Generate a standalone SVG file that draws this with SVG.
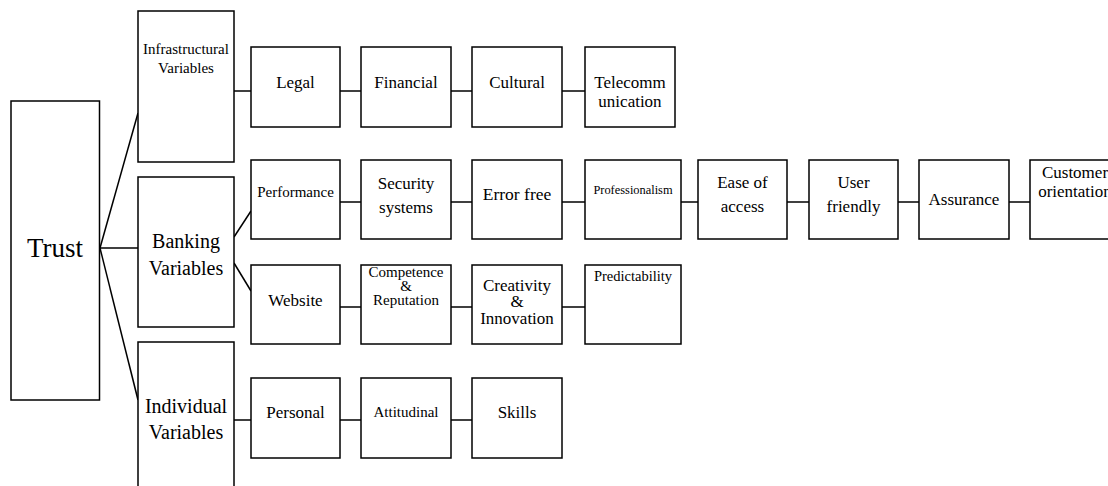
<svg xmlns="http://www.w3.org/2000/svg" width="1108" height="486" viewBox="0 0 1108 486">
<style>
rect{fill:#fff;stroke:#000;stroke-width:1.5}
#connectors line{stroke:#000;stroke-width:1.5}
text{font-family:"Liberation Serif","Times New Roman",serif;fill:#000;text-anchor:middle}
.t17{font-size:17px}
.t15{font-size:15px}
.t20{font-size:20px}
</style>
<rect x="0" y="0" width="1108" height="486" style="stroke:none"/>
<g id="connectors">
<line x1="100" y1="248" x2="138" y2="113"/>
<line x1="100" y1="248" x2="138" y2="248"/>
<line x1="100" y1="248" x2="138" y2="400"/>
<line x1="234" y1="91" x2="251" y2="91"/>
<line x1="340" y1="91" x2="361" y2="91"/>
<line x1="451" y1="91" x2="472" y2="91"/>
<line x1="562" y1="91" x2="585" y2="91"/>
<line x1="234" y1="237" x2="251" y2="211"/>
<line x1="234" y1="263" x2="251" y2="291"/>
<line x1="340" y1="202" x2="361" y2="202"/>
<line x1="451" y1="202" x2="472" y2="202"/>
<line x1="562" y1="202" x2="585" y2="202"/>
<line x1="681" y1="202" x2="698" y2="202"/>
<line x1="787" y1="202" x2="809" y2="202"/>
<line x1="898" y1="202" x2="919" y2="202"/>
<line x1="1009" y1="202" x2="1030" y2="202"/>
<line x1="340" y1="307" x2="361" y2="307"/>
<line x1="451" y1="307" x2="472" y2="307"/>
<line x1="562" y1="307" x2="585" y2="307"/>
<line x1="234" y1="420" x2="251" y2="420"/>
<line x1="340" y1="420" x2="361" y2="420"/>
<line x1="451" y1="420" x2="472" y2="420"/>
</g>
<g id="trust"><rect x="11" y="101" width="88.5" height="299"/><text x="55" y="257" style="font-size:27px">Trust</text></g>
<g id="infrastructural"><rect x="138" y="11" width="96" height="151"/><text class="t15" x="186" y="54">Infrastructural</text><text class="t15" x="186" y="73">Variables</text></g>
<g id="banking"><rect x="138" y="177" width="96" height="150"/><text class="t20" x="186" y="248">Banking</text><text class="t20" x="186" y="275">Variables</text></g>
<g id="individual"><rect x="138" y="342" width="96" height="160"/><text class="t20" x="186" y="413">Individual</text><text class="t20" x="186" y="439">Variables</text></g>

<g id="legal"><rect x="251" y="47" width="89" height="80"/><text class="t17" x="295.5" y="88">Legal</text></g>
<g id="financial"><rect x="361" y="47" width="90" height="80"/><text class="t17" x="406" y="88">Financial</text></g>
<g id="cultural"><rect x="472" y="47" width="90" height="80"/><text class="t17" x="517" y="88">Cultural</text></g>
<g id="telecommunication"><rect x="585" y="47" width="90" height="80"/><text class="t17" x="630" y="88">Telecomm</text><text class="t17" x="630" y="107">unication</text></g>

<g id="performance"><rect x="251" y="160" width="89" height="79"/><text class="t15" x="295.5" y="197">Performance</text></g>
<g id="security"><rect x="361" y="160" width="90" height="79"/><text class="t17" x="406" y="189">Security</text><text class="t17" x="406" y="213">systems</text></g>
<g id="errorfree"><rect x="472" y="160" width="90" height="79"/><text x="517" y="200" style="font-size:17.5px">Error free</text></g>
<g id="professionalism"><rect x="585" y="160" width="96" height="79"/><text x="633" y="194" style="font-size:12.4px">Professionalism</text></g>
<g id="ease"><rect x="698" y="160" width="89" height="79"/><text class="t17" x="742.5" y="188">Ease of</text><text class="t17" x="742.5" y="212">access</text></g>
<g id="userfriendly"><rect x="809" y="160" width="89" height="79"/><text class="t17" x="853.5" y="188">User</text><text class="t17" x="853.5" y="212">friendly</text></g>
<g id="assurance"><rect x="919" y="160" width="90" height="79"/><text class="t17" x="964" y="205">Assurance</text></g>
<g id="customer"><rect x="1030" y="160" width="90" height="79"/><text class="t17" x="1075" y="178">Customer</text><text class="t17" x="1075" y="197">orientation</text></g>

<g id="website"><rect x="251" y="265" width="89" height="79"/><text class="t17" x="295.5" y="306">Website</text></g>
<g id="competence"><rect x="361" y="265" width="90" height="79"/><text class="t15" x="406" y="277">Competence</text><text class="t15" x="406" y="291">&amp;</text><text class="t15" x="406" y="305">Reputation</text></g>
<g id="creativity"><rect x="472" y="265" width="90" height="79"/><text class="t17" x="517" y="291">Creativity</text><text class="t17" x="517" y="307">&amp;</text><text class="t17" x="517" y="324">Innovation</text></g>
<g id="predictability"><rect x="585" y="265" width="96" height="79"/><text x="633" y="281" style="font-size:14.5px">Predictability</text></g>

<g id="personal"><rect x="251" y="378" width="89" height="80"/><text class="t17" x="295.5" y="418">Personal</text></g>
<g id="attitudinal"><rect x="361" y="378" width="90" height="80"/><text class="t15" x="406" y="417">Attitudinal</text></g>
<g id="skills"><rect x="472" y="378" width="90" height="80"/><text class="t17" x="517" y="418">Skills</text></g>
</svg>
